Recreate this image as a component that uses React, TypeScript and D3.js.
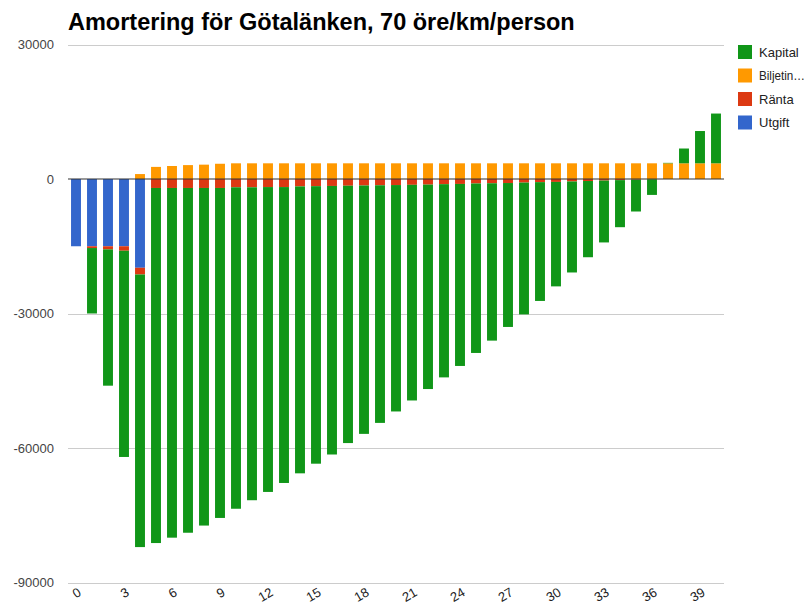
import { useEffect, useRef } from "react";
import * as d3 from "d3";

const years = [
  0, 1, 2, 3, 4, 5, 6, 7, 8, 9, 10, 11, 12, 13, 14, 15, 16, 17, 18, 19, 20,
  21, 22, 23, 24, 25, 26, 27, 28, 29, 30, 31, 32, 33, 34, 35, 36, 37, 38, 39, 40,
];

const utgift = [
  -15000, -15000, -15000, -15000, -19800, 0, 0, 0, 0, 0, 0, 0, 0, 0, 0, 0, 0,
  0, 0, 0, 0, 0, 0, 0, 0, 0, 0, 0, 0, 0, 0, 0, 0, 0, 0, 0, 0, 0, 0, 0, 0,
];

const ranta = [
  0, -400, -700, -1000, -1500, -2000, -2000, -2000, -2000, -2000, -1850, -1850,
  -1800, -1800, -1650, -1600, -1550, -1500, -1450, -1400, -1350, -1300, -1250,
  -1150, -1100, -1000, -950, -900, -800, -700, -650, -550, -450, -350, -250,
  -150, -50, 0, 0, 0, 0,
];

const biljett = [
  0, 0, 0, 0, 1100, 2700, 2900, 3100, 3200, 3400, 3500, 3500, 3500, 3500, 3500,
  3500, 3500, 3500, 3500, 3500, 3500, 3500, 3500, 3500, 3500, 3500, 3500, 3500,
  3500, 3500, 3500, 3500, 3500, 3500, 3500, 3500, 3500, 3500, 3500, 3500, 3500,
];

const kapital = [
  0, -14600, -30400, -46000, -60800, -79200, -78000, -76900, -75300, -73600,
  -71700, -69800, -68000, -66000, -64000, -61900, -59900, -57400, -55400,
  -53000, -50500, -48100, -45600, -43100, -40600, -37800, -35100, -32100,
  -29400, -26500, -23300, -20300, -17000, -13800, -10500, -7100, -3500, 100,
  3300, 7200, 11100,
];

const yTicks = [30000, 0, -30000, -60000, -90000];
const xTickLabels = [0, 3, 6, 9, 12, 15, 18, 21, 24, 27, 30, 33, 36, 39];

// stack order (outward from zero); legend is shown reversed
const seriesKeys = ["Utgift", "Ränta", "Biljetintäkter", "Kapital"];
const seriesColors = ["#3366cc", "#dc3912", "#ff9900", "#109618"];
const legendItems = [
  { label: "Kapital", color: "#109618" },
  { label: "Biljetin…", color: "#ff9900" },
  { label: "Ränta", color: "#dc3912" },
  { label: "Utgift", color: "#3366cc" },
];

export default function App() {
  const ref = useRef<HTMLDivElement>(null);

  useEffect(() => {
    const el = ref.current;
    if (!el) return;
    el.innerHTML = "";

    const width = 807;
    const height = 604;
    const left = 68;
    const right = 724;
    const top = 44.5;
    const bottom = 582.5;
    const font = "Arial, 'Liberation Sans', sans-serif";

    const rows = years.map((yr, i) => ({
      year: yr,
      Utgift: utgift[i],
      "Ränta": ranta[i],
      "Biljetintäkter": biljett[i],
      Kapital: kapital[i],
    }));

    const stacked = d3
      .stack<any>()
      .keys(seriesKeys)
      .offset(d3.stackOffsetDiverging)(rows);

    const x = d3
      .scaleBand<number>()
      .domain(years)
      .range([left, right])
      .paddingInner(0.38)
      .paddingOuter(0.19);

    const y = d3.scaleLinear().domain([-90000, 30000]).range([bottom, top]);

    const svg = d3
      .select(el)
      .append("svg")
      .attr("width", width)
      .attr("height", height)
      .style("position", "absolute")
      .style("left", "0px")
      .style("top", "0px")
      .style("background", "#fff");

    svg
      .append("text")
      .attr("x", left)
      .attr("y", 30)
      .attr("font-family", font)
      .attr("font-size", 23.5)
      .attr("font-weight", "bold")
      .attr("fill", "#000")
      .text("Amortering för Götalänken, 70 öre/km/person");

    // gridlines
    svg
      .append("g")
      .selectAll("line")
      .data(yTicks.filter((t) => t !== 0))
      .join("line")
      .attr("x1", left)
      .attr("x2", right)
      .attr("y1", (d) => Math.round(y(d)) + 0.5)
      .attr("y2", (d) => Math.round(y(d)) + 0.5)
      .attr("stroke", "#cccccc");

    svg
      .append("g")
      .selectAll("text")
      .data(yTicks)
      .join("text")
      .attr("x", 54)
      .attr("y", (d) => y(d))
      .attr("dy", "0.35em")
      .attr("text-anchor", "end")
      .attr("font-family", font)
      .attr("font-size", 13)
      .attr("fill", "#444")
      .text((d) => String(d));

    // bars
    svg
      .append("g")
      .selectAll("g")
      .data(stacked)
      .join("g")
      .attr("fill", (_, i) => seriesColors[i])
      .selectAll("rect")
      .data((s) => s.filter((d) => d[1] - d[0] !== 0))
      .join("rect")
      .attr("x", (d) => x(d.data.year)!)
      .attr("width", x.bandwidth())
      .attr("y", (d) => y(d[1]))
      .attr("height", (d) => y(d[0]) - y(d[1]));

    // zero baseline
    svg
      .append("line")
      .attr("x1", left)
      .attr("x2", right)
      .attr("y1", y(0))
      .attr("y2", y(0))
      .attr("stroke", "#333")
      .attr("stroke-width", 1.2);

    // x labels
    svg
      .append("g")
      .selectAll("text")
      .data(xTickLabels)
      .join("text")
      .attr(
        "transform",
        (d) => `translate(${x(d)! + x.bandwidth() / 2 + 6},${595}) rotate(-30)`
      )
      .attr("text-anchor", "end")
      .attr("font-family", font)
      .attr("font-size", 13)
      .attr("fill", "#222")
      .text((d) => String(d));

    // legend
    const lg = svg
      .append("g")
      .selectAll("g")
      .data(legendItems)
      .join("g")
      .attr("transform", (_, i) => `translate(738,${45 + i * 23.5})`);

    lg.append("rect")
      .attr("width", 14)
      .attr("height", 14)
      .attr("fill", (d) => d.color);

    lg.append("text")
      .attr("x", 21)
      .attr("y", 7)
      .attr("dy", "0.35em")
      .attr("font-family", font)
      .attr("font-size", 13)
      .attr("fill", "#222")
      .attr("textLength", (d) => (d.label.endsWith("…") ? 46 : null))
      .attr("lengthAdjust", "spacingAndGlyphs")
      .text((d) => d.label);
  }, []);

  return <div ref={ref} />;
}
